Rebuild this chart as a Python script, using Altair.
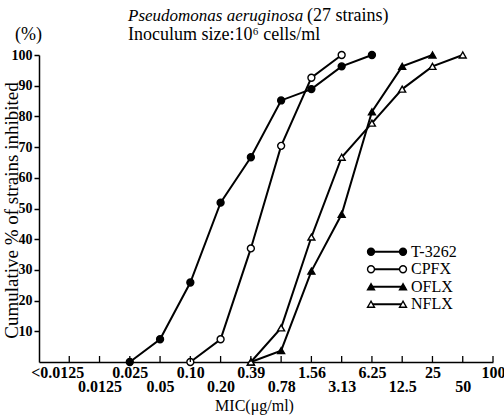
import json

import altair as alt
import pandas as pd

# MIC dilution steps (µg/ml), shown as an evenly spaced categorical axis
mic_labels = ["<0.0125", "0.0125", "0.025", "0.05", "0.10", "0.20", "0.39",
              "0.78", "1.56", "3.13", "6.25", "12.5", "25", "50", "100"]

series_names = ["T-3262", "CPFX", "OFLX", "NFLX"]

# Cumulative % of the 27 strains inhibited at each MIC
t3262_mic = ["0.025", "0.05", "0.10", "0.20", "0.39", "0.78", "1.56", "3.13", "6.25"]
t3262_pct = [0, 7.4, 25.9, 51.9, 66.7, 85.2, 88.9, 96.3, 100]

cpfx_mic = ["0.10", "0.20", "0.39", "0.78", "1.56", "3.13"]
cpfx_pct = [0, 7.4, 37.0, 70.4, 92.6, 100]

oflx_mic = ["0.39", "0.78", "1.56", "3.13", "6.25", "12.5", "25"]
oflx_pct = [0, 3.7, 29.6, 48.1, 81.5, 96.3, 100]

nflx_mic = ["0.39", "0.78", "1.56", "3.13", "6.25", "12.5", "25", "50"]
nflx_pct = [0, 11.1, 40.7, 66.7, 77.8, 88.9, 96.3, 100]

y_ticks = [10, 20, 30, 40, 50, 60, 70, 80, 90, 100]

title_species = "Pseudomonas aeruginosa"
title_count = "(27 strains)"
title_inoculum = "Inoculum size:10\u2076 cells/ml"
y_unit = "(%)"
x_title = "MIC(\u03bcg/ml)"
y_title = "Cumulative % of strains inhibited"

# ---- long table for plotting ----
rows = []
for name, mics, pcts in zip(series_names,
                            [t3262_mic, cpfx_mic, oflx_mic, nflx_mic],
                            [t3262_pct, cpfx_pct, oflx_pct, nflx_pct]):
    for m, p in zip(mics, pcts):
        rows.append({"series": name, "mic": m, "pos": mic_labels.index(m), "pct": p})
df = pd.DataFrame(rows)

W, H = 454, 307
SERIF = "Liberation Serif"

x_scale = alt.Scale(domain=[-1, len(mic_labels) - 1], nice=False, zero=False)
y_scale = alt.Scale(domain=[0, 100], nice=False)

shape_scale = alt.Scale(domain=series_names,
                        range=["circle", "circle", "triangle-up", "triangle-up"])
fill_scale = alt.Scale(domain=series_names, range=["black", "white", "black", "white"])

# alternate the tick labels between two rows
labels_js = json.dumps(mic_labels)
label_expr = (f"datum.value % 2 == 0 ? {labels_js}[datum.value] "
              f": ['', {labels_js}[datum.value]]")

x_axis = alt.Axis(
    values=list(range(len(mic_labels))),
    labelExpr=label_expr,
    ticks=False, grid=False,
    domainColor="black", domainWidth=1.5,
    labelFont=SERIF, labelFontSize=16, labelFontWeight="bold", labelColor="black",
    labelBaseline="top", labelPadding=2, labelLineHeight=14,
    labelOffset={"condition": {"test": "datum.value == 0", "value": -12}, "value": 0},
    labelOverlap=False, labelBound=False, labelFlush=False,
    title=x_title, titleFont=SERIF, titleFontSize=16, titleFontWeight="normal",
    titleColor="black", titleX=215, titleY=48, titleAlign="center",
    titleBaseline="alphabetic",
)
y_axis = alt.Axis(
    values=y_ticks, grid=False,
    domainColor="black", domainWidth=1.5,
    tickColor="black", tickWidth=1.5, tickSize=5,
    labelFont=SERIF, labelFontSize=14, labelFontWeight="bold", labelColor="black",
    labelPadding=2,
    title=y_title, titleFont=SERIF, titleFontSize=19, titleFontWeight="normal",
    titleColor="black", titleAngle=270, titleX=-28, titleY=155,
    titleAlign="center", titleBaseline="middle",
)

x_enc = alt.X("pos:Q", scale=x_scale, axis=x_axis)

lines = alt.Chart(df).mark_line(color="black", strokeWidth=2).encode(
    x=x_enc,
    y=alt.Y("pct:Q", scale=y_scale, axis=y_axis),
    detail="series:N",
)

points = alt.Chart(df).mark_point(
    filled=True, stroke="black", strokeWidth=1.4, size=48, opacity=1
).encode(
    x=x_enc,
    y=alt.Y("pct:Q", scale=y_scale, axis=None),
    shape=alt.Shape("series:N", scale=shape_scale, legend=None),
    fill=alt.Fill("series:N", scale=fill_scale, legend=None),
)

# tick marks on the MIC axis point up into the plot
tick_df = pd.DataFrame({"pos": list(range(len(mic_labels)))})
x_ticks = alt.Chart(tick_df).mark_rule(color="black", strokeWidth=1.3).encode(
    x=x_enc,
    y=alt.value(H),
    y2=alt.value(H - 6),
)

# legend: a short line with a marker at each end, then the drug name
leg_df = pd.DataFrame({"series": series_names})
leg_y = alt.Y("series:N", axis=None,
              scale=alt.Scale(type="point", domain=series_names, range=[188, 258]))
LX0, LX1 = 332, 364
leg_lines = alt.Chart(leg_df).mark_rule(color="black", strokeWidth=2).encode(
    x=alt.value(LX0), x2=alt.value(LX1), y=leg_y,
)
leg_marks = []
for lx in (LX0, LX1):
    leg_marks.append(
        alt.Chart(leg_df).mark_point(
            filled=True, stroke="black", strokeWidth=1.4, size=48, opacity=1
        ).encode(
            x=alt.value(lx), y=leg_y,
            shape=alt.Shape("series:N", scale=shape_scale, legend=None),
            fill=alt.Fill("series:N", scale=fill_scale, legend=None),
        )
    )
leg_text = alt.Chart(leg_df).mark_text(
    align="left", baseline="middle", font=SERIF, fontSize=16, color="black"
).encode(x=alt.value(372), y=leg_y, text="series:N")


def note(text, x, y, size, style="normal"):
    return alt.Chart(pd.DataFrame({"t": [text]})).mark_text(
        align="left", baseline="alphabetic", font=SERIF, fontSize=size,
        fontStyle=style, color="black",
    ).encode(x=alt.value(x), y=alt.value(y), text="t:N")


titles = [
    note(title_species, 89, -34, 17, "italic"),
    note(title_count, 268, -34, 18),
    note(title_inoculum, 89, -15, 18),
    note(y_unit, -24, -15, 18),
]

chart = alt.layer(
    lines, points, x_ticks, leg_lines, *leg_marks, leg_text, *titles
).resolve_scale(
    y="independent"
).properties(
    width=W, height=H,
    autosize=alt.AutoSizeParams(type="none"),
    padding={"left": 39, "top": 55, "right": 11, "bottom": 55},
).configure_view(strokeWidth=0)

chart.save("out.html", embed_options={"renderer": "svg", "actions": False})
